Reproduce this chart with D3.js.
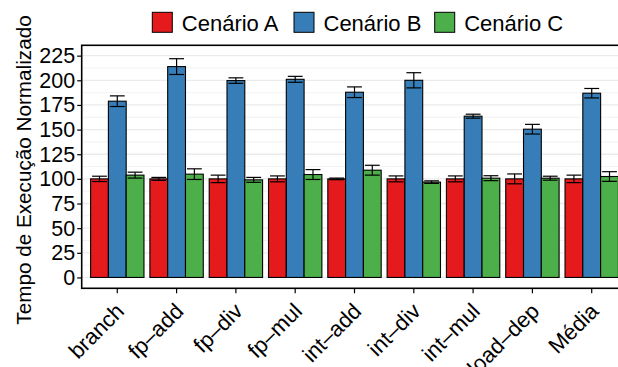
<!DOCTYPE html>
<html>
<head>
<meta charset="utf-8">
<script src="https://cdn.jsdelivr.net/npm/d3@7"></script>
<style>
  html, body { margin: 0; padding: 0; background: #fff; }
  svg { display: block; font-family: "Liberation Sans", Arial, Helvetica, sans-serif; }
</style>
</head>
<body>
<svg id="chart" width="618" height="367"></svg>
<script>
const categories = ["branch", "fp\u2013add", "fp\u2013div", "fp\u2013mul", "int\u2013add", "int\u2013div", "int\u2013mul", "load\u2013dep", "Média"];
const seriesNames = ["Cenário A", "Cenário B", "Cenário C"];
const seriesColors = ["#E41A1C", "#377EB8", "#4DAF4A"];
const valuesA = [100, 100, 100, 100, 100, 100, 100, 100, 100];
const errorsA = [2.7, 1.5, 3.8, 3.0, 0.8, 3.0, 3.0, 5.0, 3.8];
const valuesB = [178.8, 213.9, 199.7, 201.0, 187.9, 200.0, 163.6, 150.4, 186.9];
const errorsB = [5.4, 8.0, 2.8, 3.0, 5.4, 7.7, 2.0, 4.9, 4.8];
const valuesC = [103.8, 104.8, 99.0, 104.4, 108.8, 96.7, 100.7, 100.7, 102.4];
const errorsC = [3.0, 5.4, 2.5, 5.0, 5.0, 1.3, 2.5, 2.0, 4.9];
const yTicks = [0, 25, 50, 75, 100, 125, 150, 175, 200, 225];
const yMinor = [12.5, 37.5, 62.5, 87.5, 112.5, 137.5, 162.5, 187.5, 212.5];
const yTitle = "Tempo de Execução Normalizado";

const allValues = [valuesA, valuesB, valuesC];
const allErrors = [errorsA, errorsB, errorsC];

const svg = d3.select("#chart");
const panel = { left: 81.7, right: 627.3, top: 45.3, bottom: 288.3 };

const x = d3.scaleBand().domain(categories).range([panel.left, panel.right])
  .paddingInner(0.1).paddingOuter(0.15);
const xs = d3.scaleBand().domain(seriesNames).range([0, x.bandwidth()]);
const y = d3.scaleLinear().domain([-11, 235.5]).range([panel.bottom, panel.top]);

// grid
const grid = svg.append("g");
grid.selectAll("line.minor").data(yMinor).join("line")
  .attr("x1", panel.left).attr("x2", panel.right)
  .attr("y1", d => y(d)).attr("y2", d => y(d))
  .attr("stroke", "#EFEFEF").attr("stroke-width", 0.8);
grid.selectAll("line.major").data(yTicks).join("line")
  .attr("x1", panel.left).attr("x2", panel.right)
  .attr("y1", d => y(d)).attr("y2", d => y(d))
  .attr("stroke", "#EBEBEB").attr("stroke-width", 1.3);

// data rows
const rows = [];
categories.forEach((c, i) => {
  seriesNames.forEach((s, j) => {
    rows.push({ cat: c, ser: s, color: seriesColors[j], v: allValues[j][i], e: allErrors[j][i] });
  });
});

// bars
svg.append("g").selectAll("rect").data(rows).join("rect")
  .attr("x", d => x(d.cat) + xs(d.ser))
  .attr("y", d => y(d.v))
  .attr("width", xs.bandwidth())
  .attr("height", d => y(0) - y(d.v))
  .attr("fill", d => d.color)
  .attr("stroke", "#000").attr("stroke-width", 1.1);

// error bars
const capW = x.step() * 0.25;
const eb = svg.append("g").attr("stroke", "#000").attr("stroke-width", 1.2).attr("fill", "none");
rows.forEach(d => {
  const cx = x(d.cat) + xs(d.ser) + xs.bandwidth() / 2;
  const g = eb.append("g");
  g.append("line").attr("x1", cx).attr("x2", cx).attr("y1", y(d.v + d.e)).attr("y2", y(d.v - d.e));
  g.append("line").attr("x1", cx - capW / 2).attr("x2", cx + capW / 2).attr("y1", y(d.v + d.e)).attr("y2", y(d.v + d.e));
  g.append("line").attr("x1", cx - capW / 2).attr("x2", cx + capW / 2).attr("y1", y(d.v - d.e)).attr("y2", y(d.v - d.e));
});

// panel border
svg.append("rect")
  .attr("x", panel.left).attr("y", panel.top)
  .attr("width", panel.right - panel.left).attr("height", panel.bottom - panel.top)
  .attr("fill", "none").attr("stroke", "#000").attr("stroke-width", 1.6);

// y axis
const yAxis = svg.append("g").attr("transform", `translate(${panel.left},0)`)
  .call(d3.axisLeft(y).tickValues(yTicks).tickSize(4.5).tickPadding(2));
yAxis.select(".domain").remove();
yAxis.selectAll(".tick line").attr("stroke", "#000").attr("stroke-width", 1.2);
yAxis.selectAll(".tick text").attr("fill", "#000").style("font-size", "21.5px");

// x axis
const xAxis = svg.append("g").attr("transform", `translate(0,${panel.bottom})`)
  .call(d3.axisBottom(x).tickSize(5).tickPadding(0));
xAxis.select(".domain").remove();
xAxis.selectAll(".tick line").attr("stroke", "#000").attr("stroke-width", 1.2);
xAxis.selectAll(".tick text")
  .attr("fill", "#000").style("font-size", "22px")
  .attr("text-anchor", "end")
  .attr("x", 0).attr("y", 0).attr("dy", "0.72em")
  .attr("transform", "translate(-3,13) rotate(-45)");

// y title
svg.append("text")
  .attr("transform", `translate(30.5,170) rotate(-90)`)
  .attr("text-anchor", "middle")
  .style("font-size", "20.7px").attr("fill", "#000")
  .text(yTitle);

// legend
const legendX = [152.3, 294, 434.7];
const lg = svg.append("g");
seriesNames.forEach((s, j) => {
  lg.append("rect").attr("x", legendX[j]).attr("y", 12.3).attr("width", 20).attr("height", 20)
    .attr("fill", seriesColors[j]).attr("stroke", "#000").attr("stroke-width", 1);
  lg.append("text").attr("x", legendX[j] + 29.5).attr("y", 31)
    .style("font-size", "22px").attr("fill", "#000").text(s);
});
</script>
</body>
</html>
